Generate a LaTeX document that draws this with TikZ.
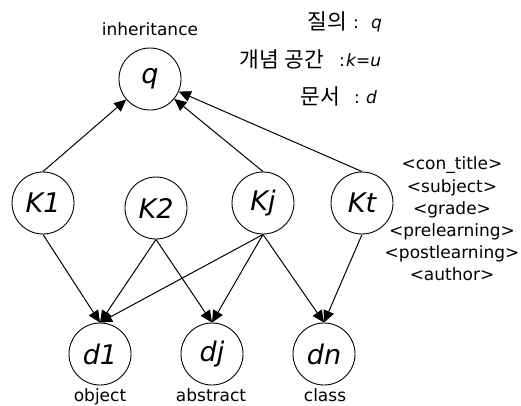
\documentclass[tikz,border=0pt]{standalone}
\usepackage{fontspec}
\setmainfont{DejaVu Sans}
\newfontfamily\kr{Noto Sans CJK KR}
\usetikzlibrary{arrows.meta}
\begin{document}
\begin{tikzpicture}[x=1pt,y=-1pt,
 circ/.style={circle,draw,line width=0.9pt,minimum size=62pt,inner sep=0pt,font=\fontsize{27}{30}\selectfont\itshape},
 lbl/.style={font=\fontsize{17}{20}\selectfont,inner sep=0pt},
 krf/.style={font=\kr\fontsize{21.5}{24}\selectfont,inner sep=0pt,anchor=base east},
 colon/.style={font=\fontsize{17}{20}\selectfont,inner sep=0pt,anchor=base},
 var/.style={font=\fontsize{17}{20}\selectfont\itshape,inner sep=0pt,anchor=base west},
 arr/.style={line width=1pt,-{Triangle[length=12pt,width=11pt]}}]
\useasboundingbox (0,0) rectangle (521,405);
\node[circ] (q) at (150,79) {q};
\node[circ] (K1) at (43,203) {K1};
\node[circ] (K2) at (156,208) {K2};
\node[circ] (Kj) at (263,203) {Kj};
\node[circ] (Kt) at (362,203) {Kt};
\node[circ] (d1) at (100,354) {d1};
\node[circ] (dj) at (212,354) {dj};
\node[circ] (dn) at (324,354) {dn};
\node[lbl,anchor=base] (inh) at (150,35) {inheritance};
\node[lbl,anchor=base] (obj) at (100,401) {object};
\node[lbl,anchor=base] (abs) at (211,401) {abstract};
\node[lbl,anchor=base] (cls) at (325,401) {class};
\node[krf] (t1) at (347,29) {질의};
\node[colon] (c1) at (356,28) {:};
\node[var] (v1) at (371,28) {q};
\node[krf] (t2) at (324,67) {개념 공간};
\node[colon] (c2) at (342,66) {:};
\node[var] (v2) at (346,66) {k=u};
\node[krf] (t3) at (340,104) {문서};
\node[colon] (c3) at (357,103) {:};
\node[var] (v3) at (366,103) {d};
\node[lbl,align=center,font=\fontsize{17}{22.2}\selectfont] (tags) at (452,219)
 {<con\_title>\\<subject>\\<grade>\\<prelearning>\\<postlearning>\\<author>};
\draw[arr] (K1.north) -- (q);
\draw[arr] (Kj.north) -- (q);
\draw[arr] (Kt.north) -- (q);
\draw[arr] (K1.south) -- (d1.north);
\draw[arr] (K2.south) -- (d1.north);
\draw[arr] (Kj.south) -- (d1.north);
\draw[arr] (K2.south) -- (dj.north);
\draw[arr] (Kj.south) -- (dj.north);
\draw[arr] (Kj.south) -- (dn.north);
\draw[arr] (Kt.south) -- (dn.north);
\end{tikzpicture}
\end{document}
